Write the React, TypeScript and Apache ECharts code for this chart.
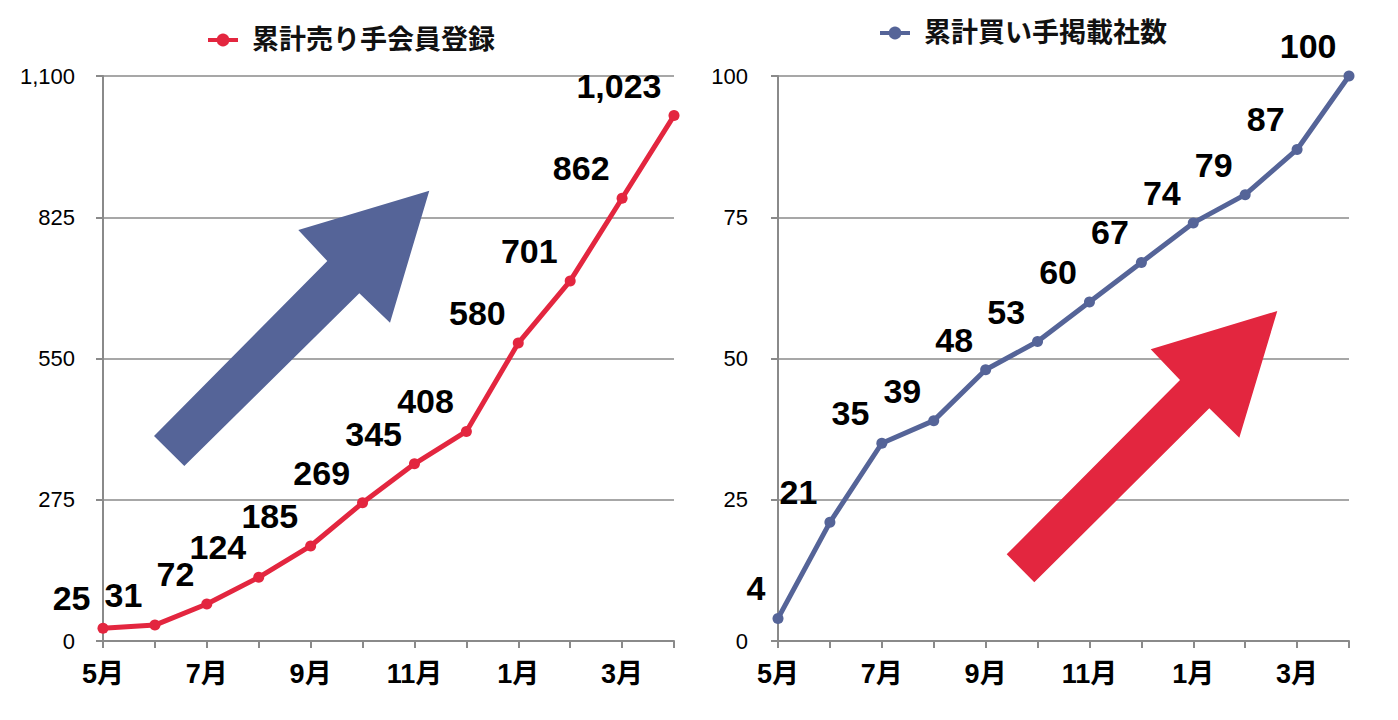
import React, { useEffect, useRef } from "react";
import * as echarts from "echarts";

const months = ["5月", "6月", "7月", "8月", "9月", "10月", "11月", "12月", "1月", "2月", "3月", "4月"];
const sellerName = "累計売り手会員登録";
const buyerName = "累計買い手掲載社数";
const sellerValues = [25, 31, 72, 124, 185, 269, 345, 408, 580, 701, 862, 1023];
const buyerValues = [4, 21, 35, 39, 48, 53, 60, 67, 74, 79, 87, 100];
const sellerTicks = { min: 0, max: 1100, interval: 275 };
const buyerTicks = { min: 0, max: 100, interval: 25 };

const RED = "#e3263f";
const BLUE = "#556498";
const GRAY = "#8a8a8a";
const FONT = '"Liberation Sans", Arial, "Noto Sans CJK JP", sans-serif';

export default function App() {
  const ref = useRef<HTMLDivElement>(null);
  useEffect(() => {
    if (!ref.current) return;
    const chart = echarts.init(ref.current, null, { renderer: "svg" });

    const xAxis = (gridIndex: number) => ({
      type: "category",
      gridIndex,
      data: months,
      boundaryGap: false,
      axisLine: { lineStyle: { color: GRAY, width: 2 } },
      axisTick: { show: true, interval: 0, length: 7, lineStyle: { color: GRAY, width: 2 } },
      axisLabel: {
        interval: 1,
        margin: 19,
        color: "#000",
        fontSize: 27,
        fontWeight: "bold",
        fontFamily: FONT,
      },
      splitLine: { show: false },
    });

    const yAxis = (gridIndex: number, t: { min: number; max: number; interval: number }, margin: number) => ({
      type: "value",
      gridIndex,
      min: t.min,
      max: t.max,
      interval: t.interval,
      axisLine: { show: true, lineStyle: { color: GRAY, width: 2 } },
      axisTick: { show: true, length: 7, inside: false, lineStyle: { color: GRAY, width: 2 } },
      axisLabel: {
        margin,
        color: "#000",
        fontSize: 22,
        fontFamily: FONT,
        formatter: (v: number) => v.toLocaleString("en-US"),
      },
      splitLine: { show: true, lineStyle: { color: GRAY, width: 1.5 } },
    });

    const labelBase = {
      show: true,
      position: "left",
      distance: 7,
      offset: [0, -30],
      color: "#000",
      fontSize: 34,
      lineHeight: 25,
      fontWeight: "bold",
      fontFamily: FONT,
      formatter: (p: any) => Number(p.value).toLocaleString("en-US"),
    };

    const legendText = {
      color: "#111",
      fontSize: 27,
      fontWeight: "bold",
      fontFamily: FONT,
      padding: [0, 0, 0, 9],
      lineHeight: 28,
    };

    const legendBase = {
      padding: 0,
      itemWidth: 30,
      itemHeight: 16,
      lineStyle: { width: 4 },
      textStyle: legendText,
      selectedMode: false,
    };

    const option: any = {
      animation: false,
      backgroundColor: "#ffffff",
      textStyle: { fontFamily: FONT },
      grid: [
        { left: 103, right: 724, top: 76, bottom: 79, containLabel: false },
        { left: 778, right: 49, top: 76, bottom: 79, containLabel: false },
      ],
      legend: [
        { ...legendBase, data: [sellerName], left: 206, top: 26 },
        { ...legendBase, data: [buyerName], left: 878, top: 19 },
      ],
      xAxis: [xAxis(0), xAxis(1)],
      yAxis: [yAxis(0, sellerTicks, 28), yAxis(1, buyerTicks, 30)],
      series: [
        {
          name: sellerName,
          type: "line",
          xAxisIndex: 0,
          yAxisIndex: 0,
          data: sellerValues,
          symbol: "circle",
          symbolSize: 11,
          color: RED,
          lineStyle: { color: RED, width: 5 },
          itemStyle: { color: RED },
          label: labelBase,
          z: 5,
        },
        {
          name: buyerName,
          type: "line",
          xAxisIndex: 1,
          yAxisIndex: 1,
          data: buyerValues,
          symbol: "circle",
          symbolSize: 11,
          color: BLUE,
          lineStyle: { color: BLUE, width: 5 },
          itemStyle: { color: BLUE },
          label: labelBase,
          z: 5,
        },
      ],
      graphic: [
        {
          type: "polygon",
          z: 1,
          shape: {
            points: [
              [429.3, 190.7],
              [298.3, 230],
              [327.3, 261],
              [154, 436],
              [184.3, 466],
              [359.3, 293.3],
              [390, 322.7],
            ],
          },
          style: { fill: BLUE },
        },
        {
          type: "polygon",
          z: 1,
          shape: {
            points: [
              [1277.3, 311],
              [1150.7, 349.3],
              [1180, 380],
              [1006.7, 554.3],
              [1034.3, 582.3],
              [1209.3, 408.3],
              [1239.3, 437.7],
            ],
          },
          style: { fill: RED },
        },
      ],
    };

    chart.setOption(option);
    return () => chart.dispose();
  }, []);

  return (
    <div
      ref={ref}
      style={{ position: "fixed", left: 0, top: 0, width: 1398, height: 720, background: "#fff" }}
    />
  );
}
